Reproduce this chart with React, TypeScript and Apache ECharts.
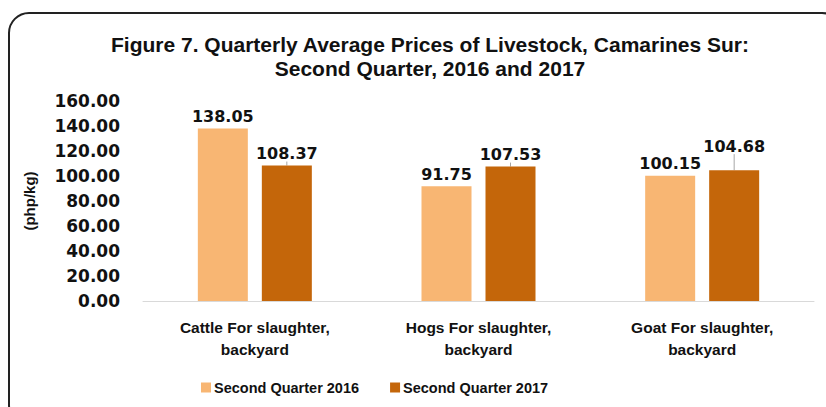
import React, { useEffect, useRef } from "react";
import * as echarts from "echarts";

const categories = ["Cattle For slaughter,\nbackyard", "Hogs For slaughter,\nbackyard", "Goat For slaughter,\nbackyard"];
const seriesNames = ["Second Quarter 2016", "Second Quarter 2017"];
const values2016 = [138.05, 91.75, 100.15];
const values2017 = [108.37, 107.53, 104.68];
const titleText = "Figure 7. Quarterly Average Prices of Livestock, Camarines Sur:\nSecond Quarter, 2016 and 2017";

export default function App() {
  const ref = useRef<HTMLDivElement>(null);
  useEffect(() => {
    if (!ref.current) return;
    const chart = echarts.init(ref.current, null, { renderer: "svg" });
    const labelStyle = {
      show: true,
      position: "top" as const,
      distance: 4,
      fontFamily: "DejaVu Sans",
      fontWeight: "bold" as const,
      fontSize: 16,
      color: "#111",
      formatter: (p: any) => p.value.toFixed(2),
    };
    chart.setOption({
      animation: false,
      backgroundColor: "#fff",
      graphic: [
        {
          type: "rect",
          shape: { x: 9, y: 13, width: 833, height: 412, r: 20 },
          style: { fill: "none", stroke: "#222", lineWidth: 2 },
          silent: true,
        },
      ],
      title: {
        text: titleText,
        left: 425,
        top: 27,
        textAlign: "center",
        textStyle: {
          fontFamily: "Liberation Sans",
          fontWeight: "bold",
          fontSize: 21,
          lineHeight: 24,
          color: "#111",
        },
      },
      legend: {
        left: 196,
        top: 375,
        itemWidth: 10,
        itemHeight: 10,
        itemGap: 31,
        icon: "rect",
        textStyle: {
          fontFamily: "Liberation Sans",
          fontWeight: "bold",
          fontSize: 14.5,
          color: "#111",
          padding: [0, 0, 0, -2],
        },
        data: seriesNames,
      },
      grid: { left: 143, right: 12, top: 101, bottom: 106 },
      xAxis: {
        type: "category",
        data: categories,
        axisLine: { lineStyle: { color: "#d9d9d9", width: 1 } },
        axisTick: { show: false },
        axisLabel: {
          margin: 15,
          fontFamily: "Liberation Sans",
          fontWeight: "bold",
          fontSize: 15.5,
          lineHeight: 22,
          color: "#111",
          interval: 0,
        },
      },
      yAxis: {
        type: "value",
        min: 0,
        max: 160,
        interval: 20,
        name: "(php/kg)",
        nameLocation: "middle",
        nameRotate: 90,
        nameGap: 106,
        nameTextStyle: {
          fontFamily: "Liberation Sans",
          fontWeight: "bold",
          fontSize: 15,
          color: "#111",
        },
        splitLine: { show: false },
        axisLine: { show: false },
        axisTick: { show: false },
        axisLabel: {
          margin: 23,
          fontFamily: "DejaVu Sans",
          fontWeight: "bold",
          fontSize: 17,
          color: "#111",
          formatter: (v: number) => v.toFixed(2),
        },
      },
      series: [
        {
          name: seriesNames[0],
          type: "bar",
          data: values2016,
          barWidth: 50,
          barGap: "28%",
          itemStyle: { color: "#F8B673" },
          label: labelStyle,
        },
        {
          name: seriesNames[1],
          type: "bar",
          data: values2017,
          barWidth: 50,
          itemStyle: { color: "#C4660A" },
          label: labelStyle,
          labelLine: { show: true, lineStyle: { color: "#a6a6a6", width: 1 } },
          labelLayout: (p: any) => (p.dataIndex === 2 ? { dy: -12 } : {}),
        },
      ],
    });
    return () => chart.dispose();
  }, []);
  return (
    <div
      ref={ref}
      style={{ position: "fixed", left: 0, top: 0, width: 826, height: 407 }}
    />
  );
}
